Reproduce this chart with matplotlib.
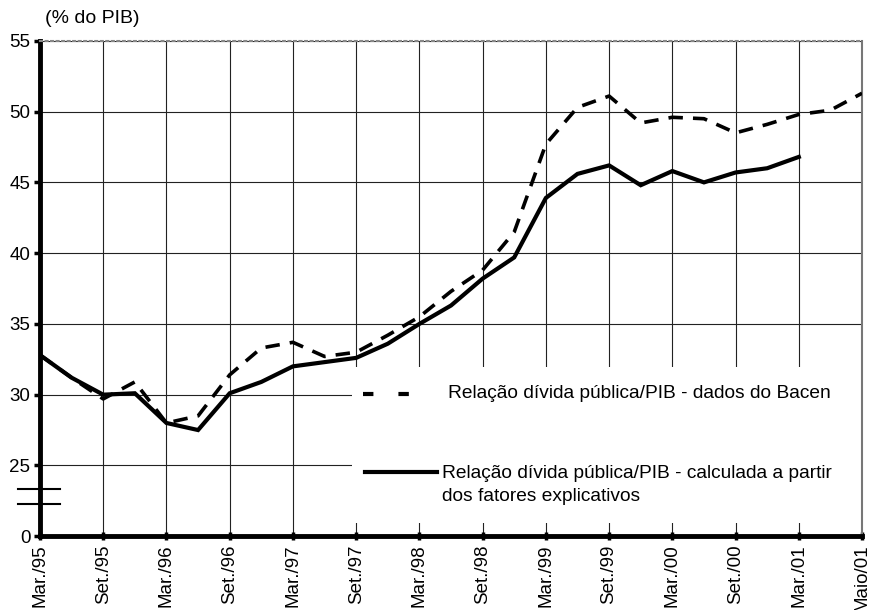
import matplotlib.pyplot as plt
from matplotlib.lines import Line2D
from matplotlib.patches import Rectangle

plt.rcParams['font.family'] = ['Liberation Sans', 'DejaVu Sans']

# quarterly observations, Mar/95 ... Mar/01 plus Maio/01
periods = ['Mar./95', 'Jun./95', 'Set./95', 'Dez./95', 'Mar./96', 'Jun./96', 'Set./96',
           'Dez./96', 'Mar./97', 'Jun./97', 'Set./97', 'Dez./97', 'Mar./98', 'Jun./98',
           'Set./98', 'Dez./98', 'Mar./99', 'Jun./99', 'Set./99', 'Dez./99', 'Mar./00',
           'Jun./00', 'Set./00', 'Dez./00', 'Mar./01', 'Abr./01', 'Maio/01']
tick_labels = ['Mar./95', 'Set./95', 'Mar./96', 'Set./96', 'Mar./97', 'Set./97', 'Mar./98',
               'Set./98', 'Mar./99', 'Set./99', 'Mar./00', 'Set./00', 'Mar./01', 'Maio/01']

bacen = [32.8, 31.2, 29.7, 30.9, 28.0, 28.5, 31.4, 33.3, 33.7, 32.7, 33.0, 34.2, 35.5,
         37.3, 38.8, 41.5, 47.7, 50.3, 51.1, 49.2, 49.6, 49.5, 48.5, 49.1, 49.8, 50.1, 51.3]
calculada = [32.8, 31.2, 30.0, 30.1, 28.0, 27.5, 30.1, 30.9, 32.0, 32.3, 32.6, 33.6, 35.0,
             36.3, 38.2, 39.7, 43.9, 45.6, 46.2, 44.8, 45.8, 45.0, 45.7, 46.0, 46.8]

y_ticks = [0, 25, 30, 35, 40, 45, 50, 55]
AXIS_BREAK = 20  # "0" is drawn one step below 25 (broken axis)


def to_axis(v):
    return AXIS_BREAK if v == 0 else v


fig = plt.figure(figsize=(8.69, 6.10), dpi=100)
ax = fig.add_axes([0.046, 0.121, 0.946, 0.812])

x = list(range(len(periods)))
ax.plot(x[:len(calculada)], calculada, color='black', lw=3.0, solid_joinstyle='miter', zorder=4)
ax.plot(x, bacen, color='black', lw=2.6, linestyle=(0, (4.0, 2.8)), zorder=4)

ax.set_xlim(0, len(periods) - 1)
ax.set_ylim(AXIS_BREAK, 55)
ax.set_xticks(x[::2])
ax.set_xticklabels(tick_labels, rotation=90, fontsize=13.5)
ax.set_yticks([to_axis(v) for v in y_ticks])
ax.set_yticklabels([str(v) for v in y_ticks], fontsize=13.5)
ax.tick_params(axis='y', direction='out', length=4, width=2.5, pad=3)
ax.tick_params(axis='x', direction='inout', length=6, width=2.5, pad=3)

ax.grid(True, color='#222222', lw=0.8)
ax.set_axisbelow(True)

for side in ['left', 'bottom']:
    ax.spines[side].set_linewidth(3.5)
ax.spines['right'].set_color('#777777')
ax.spines['right'].set_linewidth(1.5)
ax.spines['top'].set_color('#888888')
ax.spines['top'].set_linestyle(':')
ax.spines['top'].set_linewidth(1.5)

# axis break marks
ytr = ax.get_yaxis_transform()
for yb in [23.3, 22.25]:
    ax.add_line(Line2D([-0.027, 0.024], [yb, yb], transform=ytr, color='black', lw=1.5,
                       clip_on=False, zorder=5))

# legend drawn over a white box
ax.add_patch(Rectangle((0.38, 0.026), 0.62, 0.315, transform=ax.transAxes,
                       facecolor='white', edgecolor='none', zorder=2))
ax.add_line(Line2D([0.393, 0.47], [0.288, 0.288], transform=ax.transAxes, color='black',
                   lw=3.0, linestyle=(0, (2.5, 6.0)), zorder=5))
ax.text(0.496, 0.288, 'Relação dívida pública/PIB - dados do Bacen', transform=ax.transAxes,
        fontsize=13.8, va='center', ha='left', zorder=5)
ax.add_line(Line2D([0.395, 0.483], [0.129, 0.129], transform=ax.transAxes, color='black',
                   lw=3.0, zorder=5))
ax.text(0.489, 0.127, 'Relação dívida pública/PIB - calculada a partir', transform=ax.transAxes,
        fontsize=13.8, va='center', ha='left', zorder=5)
ax.text(0.489, 0.081, 'dos fatores explicativos', transform=ax.transAxes,
        fontsize=13.8, va='center', ha='left', zorder=5)

fig.text(0.052, 0.97, '(% do PIB)', fontsize=14, va='center', ha='left')

fig.savefig('out.png', dpi=100)
